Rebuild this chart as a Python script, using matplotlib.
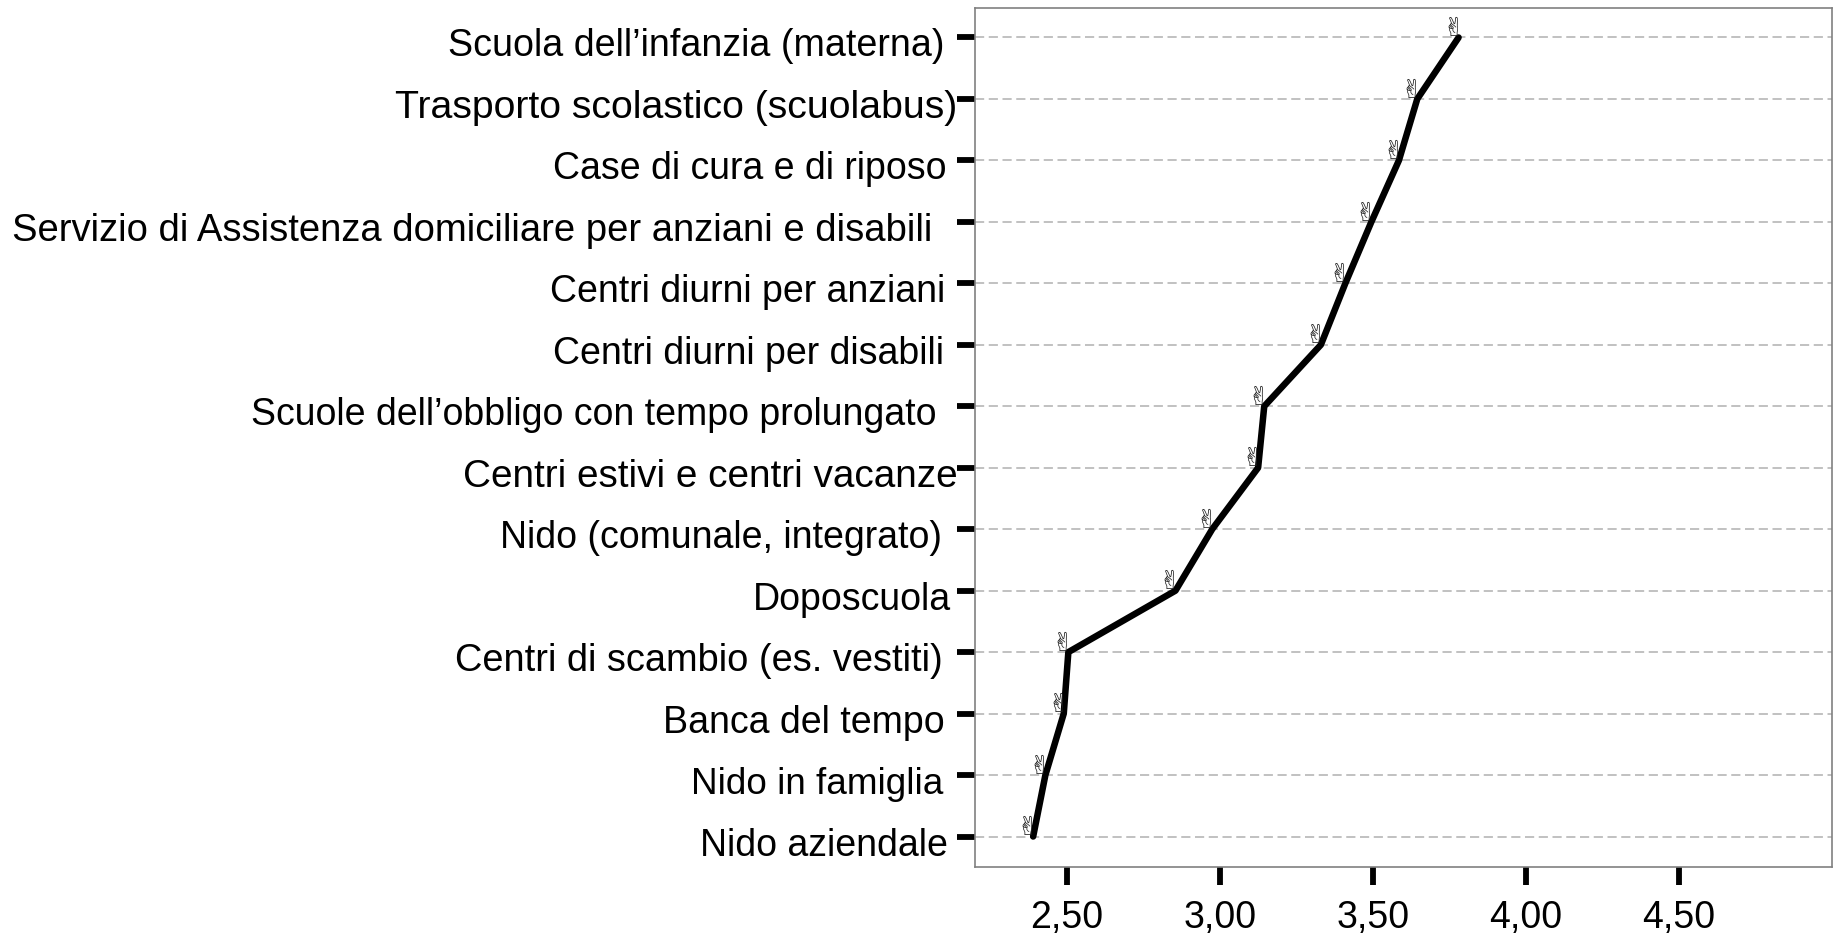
import matplotlib
matplotlib.use('Agg')
import matplotlib.pyplot as plt
from matplotlib.transforms import ScaledTranslation

plt.rcParams['font.family'] = ['Liberation Sans', 'DejaVu Sans']

# bottom to top
services = ['Nido aziendale', 'Nido in famiglia', 'Banca del tempo',
            'Centri di scambio (es. vestiti)', 'Doposcuola', 'Nido (comunale, integrato)',
            'Centri estivi e centri vacanze', 'Scuole dell’obbligo con tempo prolungato',
            'Centri diurni per disabili', 'Centri diurni per anziani',
            'Servizio di Assistenza domiciliare per anziani e disabili',
            'Case di cura e di riposo', 'Trasporto scolastico (scuolabus)',
            'Scuola dell’infanzia (materna)']
scores = [2.39, 2.43, 2.49, 2.505, 2.855, 2.975, 3.125, 3.145, 3.33, 3.41, 3.495, 3.585, 3.645, 3.78]
x_ticks = [2.5, 3.0, 3.5, 4.0, 4.5]
x_tick_labels = ['2,50', '3,00', '3,50', '4,00', '4,50']
# labels don't line up on the right in the original, nudge in px
label_nudge = [3, -1, 0, -2, 7, -2, 13, -8, 0, 1, -12, 2, 13, 0]
# the original letter spacing is uneven, so some labels run a bit wider
label_size = [27, 26.6, 27, 27.4, 27, 27, 27.9, 27, 27, 27, 27.5, 27, 28.3, 27.1]

fig = plt.figure(figsize=(18.39, 9.36), dpi=100)
ax = fig.add_axes([975 / 1839, 1 - 866.5 / 936, 857 / 1839, 859 / 936])

rows = list(range(len(services)))
ax.plot(scores, rows, color='black', lw=4.7, solid_capstyle='round', zorder=3)

# hand markers sit up and left of each point
for s, r in zip(scores, rows):
    ax.annotate('\u270c', (s, r), xytext=(-4, 6), textcoords='offset points',
                ha='center', va='center', fontsize=19, color='#222222',
                family='DejaVu Sans', zorder=4)

ax.set_xlim(2.2, 5.0)
ax.set_ylim(-0.488, 13.488)
ax.set_xticks(x_ticks)
ax.set_xticklabels(x_tick_labels, fontsize=27)
ax.set_yticks(rows)
ax.set_yticklabels(services, fontsize=27)
ax.tick_params(axis='both', length=13, width=4.2, color='black', labelcolor='black')
ax.tick_params(axis='y', pad=9)
ax.tick_params(axis='x', pad=11)

for lab, dx, size in zip(ax.get_yticklabels(), label_nudge, label_size):
    lab.set_fontsize(size)
    lab.set_transform(lab.get_transform() + ScaledTranslation(dx / 100, -5 / 100, fig.dpi_scale_trans))

ax.grid(axis='y', color='#b0b0b0', lw=1.1, ls=(0, (6, 3)), zorder=1)
ax.set_axisbelow(True)
for sp in ax.spines.values():
    sp.set_color('#808080')
    sp.set_linewidth(1.2)

plt.savefig('out.png', dpi=100)
